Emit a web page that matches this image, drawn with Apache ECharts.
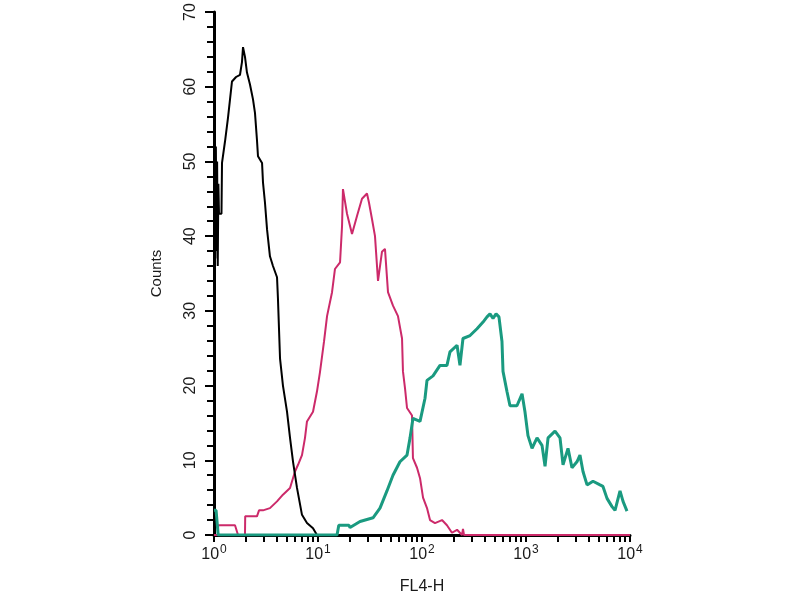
<!DOCTYPE html>
<html>
<head>
<meta charset="utf-8">
<script src="https://cdn.jsdelivr.net/npm/echarts@6/dist/echarts.min.js"></script>
<style>
html,body{margin:0;padding:0;background:#fff;}
#chart{width:800px;height:600px;}
</style>
</head>
<body>
<div id="chart"></div>
<script>
// FL4-H given in decades (log10 of channel value), counts per channel
var blackX = [0.000,0.006,0.012,0.018,0.024,0.030,0.036,0.042,0.048,0.072,0.077,0.106,0.135,0.154,0.173,0.212,0.250,0.269,0.279,0.298,0.317,0.346,0.375,0.394,0.413,0.423,0.462,0.471,0.490,0.510,0.538,0.567,0.606,0.615,0.635,0.663,0.702,0.731,0.760,0.798,0.846,0.894,0.952,0.990,2.300];
var blackY = [45,53,37,52,38,50,36,47,43,43,49.8,52.7,55.9,58.3,60.7,61.3,61.6,63.3,65.3,64,61.9,60.3,58.3,56.5,52.9,50.7,49.8,47.2,44.5,40.9,37.3,36,34.5,31.6,23.6,20,16.5,13,9.8,6.3,2.7,1.6,0.9,0,0];

var pinkX = [0.000,0.038,0.040,0.202,0.231,0.298,0.300,0.413,0.433,0.471,0.538,0.606,0.663,0.731,0.779,0.808,0.846,0.875,0.894,0.952,0.990,1.019,1.058,1.087,1.135,1.163,1.212,1.231,1.240,1.279,1.327,1.375,1.423,1.471,1.490,1.519,1.548,1.577,1.615,1.644,1.673,1.721,1.769,1.808,1.817,1.837,1.856,1.904,1.913,1.952,1.981,2.010,2.048,2.077,2.125,2.192,2.240,2.288,2.337,2.385,2.394,2.404,4.000];
var pinkY = [0,0,1.3,1.3,0,0,2.5,2.5,3.3,3.3,3.6,4.5,5.4,6.3,8.5,9.4,10.7,13,15.2,16.5,19.2,21.8,25.9,29.3,32.5,35.6,36.5,41.3,46.3,43,40.3,42.7,45,45.7,44.5,42.3,40,34,37.9,38.3,32.5,30.7,29.3,26.3,21.9,19.6,17,16,10.3,9,7.6,5,3.6,2,1.6,2,1.3,0.3,0.7,0,0.8,0,0];

var tealX = [0.000,0.020,0.040,1.183,1.200,1.298,1.308,1.404,1.529,1.596,1.663,1.721,1.788,1.856,1.885,1.913,1.981,2.029,2.048,2.106,2.173,2.240,2.269,2.337,2.365,2.394,2.462,2.529,2.587,2.625,2.654,2.683,2.712,2.740,2.769,2.779,2.817,2.846,2.913,2.962,2.990,3.019,3.058,3.106,3.154,3.183,3.212,3.279,3.327,3.356,3.404,3.442,3.490,3.519,3.548,3.587,3.644,3.712,3.740,3.779,3.827,3.856,3.904,3.933,3.971];
var tealY = [3.3,3.3,0,0,1.3,1.3,1.0,1.8,2.3,3.6,5.9,8,9.8,10.7,13,15.6,15.2,18.3,20.7,21.3,22.7,22.7,24.5,25.4,22.7,26.3,26.7,27.6,28.5,29.2,29.6,29.0,29.6,29.2,25.9,21.9,19.2,17.3,17.3,18.9,16.5,13.3,11.6,13,12,9.2,13,13.9,13,9.4,11.6,9,9.8,10.7,8.5,6.7,7.2,6.7,6.5,4.9,3.8,3.3,5.9,4.5,3.2];

var xDecades = [0,1,2,3,4];
var xMinorFactors = [2,3,4,5,6,7,8,9];

function zip(xs, ys){
    var out = [];
    for (var i = 0; i < xs.length; i++) out.push([xs[i], ys[i]]);
    return out;
}

// log ticks: decades plus 2..9 inside each decade
var allTicks = xDecades.slice();
for (var d = 0; d < xDecades.length - 1; d++) {
    for (var k = 0; k < xMinorFactors.length; k++) {
        allTicks.push(xDecades[d] + Math.log10(xMinorFactors[k]));
    }
}

var txt = '#1a1a1a';
var font = 'Liberation Sans, Arial, sans-serif';

var chart = echarts.init(document.getElementById('chart'));
var option = {
    backgroundColor: '#fff',
    animation: false,
    grid: { left: 214, right: 170, top: 12, bottom: 63 },
    xAxis: {
        type: 'value', min: 0, max: 4, interval: 1,
        name: 'FL4-H', nameLocation: 'middle', nameGap: 44,
        nameTextStyle: { color: txt, fontSize: 16, fontFamily: font },
        axisLine: { show: true, lineStyle: { color: '#000', width: 3 } },
        axisTick: { show: true, inside: false, length: 7, customValues: allTicks,
            lineStyle: { color: '#000', width: 2 } },
        splitLine: { show: false },
        axisLabel: {
            margin: 9,
            customValues: xDecades,
            formatter: function (v) { return '{b|10}{s|' + v + '}'; },
            rich: {
                b: { fontSize: 16, color: txt, fontFamily: font },
                s: { fontSize: 12, color: txt, fontFamily: font, padding: [0, 0, 9, 1] }
            }
        }
    },
    yAxis: {
        type: 'value', min: 0, max: 70, interval: 10,
        name: 'Counts', nameLocation: 'middle', nameGap: 50, nameRotate: 90,
        nameTextStyle: { color: txt, fontSize: 15, fontFamily: font },
        axisLine: { show: true, lineStyle: { color: '#000', width: 3 } },
        axisTick: { show: true, length: 9, lineStyle: { color: '#000', width: 2 } },
        minorTick: { show: true, splitNumber: 5, length: 7, lineStyle: { color: '#000', width: 2 } },
        splitLine: { show: false },
        axisLabel: { rotate: 90, margin: 15, fontSize: 16, color: txt, fontFamily: font }
    },
    series: [{
        type: 'line', name: 'pink', data: zip(pinkX, pinkY), showSymbol: false,
        lineStyle: { color: '#cc2a6a', width: 2 }, z: 2
    }, {
        type: 'line', name: 'black', data: zip(blackX, blackY), showSymbol: false,
        lineStyle: { color: '#000', width: 2 }, z: 3
    }, {
        type: 'line', name: 'teal', data: zip(tealX, tealY), showSymbol: false,
        lineStyle: { color: '#1a9a80', width: 3 }, z: 4
    }]
};
chart.setOption(option);
</script>
</body>
</html>
